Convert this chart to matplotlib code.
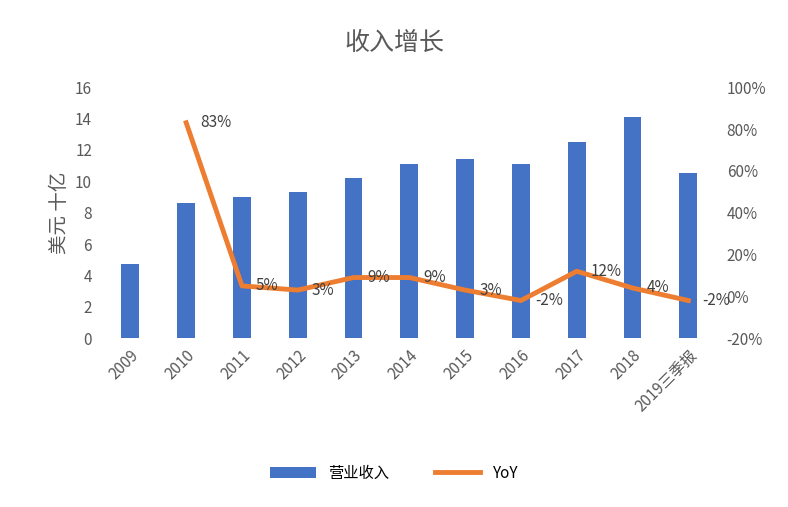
import matplotlib.pyplot as plt
import numpy as np

plt.rcParams['font.family'] = ['Noto Sans CJK SC', 'DejaVu Sans']

years = ['2009', '2010', '2011', '2012', '2013', '2014', '2015', '2016', '2017', '2018', '2019三季报']
revenue = [4.7, 8.6, 9.0, 9.3, 10.2, 11.1, 11.4, 11.1, 12.5, 14.1, 10.5]
yoy = [None, 83, 5, 3, 9, 9, 3, -2, 12, 4, -2]
yoy_labels = ['', '83%', '5%', '3%', '9%', '9%', '3%', '-2%', '12%', '4%', '-2%']

fig = plt.figure(figsize=(7.88, 5.07), dpi=100)
ax = fig.add_axes([0.123, 0.333, 0.793, 0.495])
ax2 = ax.twinx()

x = np.arange(len(years))
bars = ax.bar(x, revenue, width=0.32, color='#4472C4', label='营业收入', zorder=2)

xi = x[1:]
yv = [v for v in yoy if v is not None]
line, = ax2.plot(xi, yv, color='#ED7D31', lw=3.5, label='YoY', zorder=3)
for xx, v, lab in zip(xi, yv, yoy_labels[1:]):
    ax2.text(xx + 0.25, v, lab, fontsize=11, color='#404040', va='center', ha='left')

ax.set_ylim(0, 16)
ax.set_yticks(range(0, 17, 2))
ax2.set_ylim(-20, 100)
ax2.set_yticks(range(-20, 101, 20))
ax2.set_yticklabels([f'{t}%' for t in range(-20, 101, 20)])
ax.set_xlim(-0.6, len(years) - 0.4)
ax.set_xticks(x)
ax.set_xticklabels(years, rotation=45, ha='right', rotation_mode='anchor')
ax.set_ylabel('美元 十亿', fontsize=14, color='#595959')

for a in (ax, ax2):
    for s in a.spines.values():
        s.set_visible(False)
    a.tick_params(length=0, labelsize=11, labelcolor='#595959')
ax.tick_params(axis='x', pad=6)
ax.set_zorder(ax2.get_zorder() - 1)
ax.patch.set_visible(False)

fig.suptitle('收入增长', y=0.94, fontsize=18, color='#595959')
fig.legend([bars, line], ['营业收入', 'YoY'], loc='center', bbox_to_anchor=(0.5, 0.067),
           ncol=2, frameon=False, fontsize=11, handlelength=3, columnspacing=3)

fig.savefig('out.png', dpi=100)
